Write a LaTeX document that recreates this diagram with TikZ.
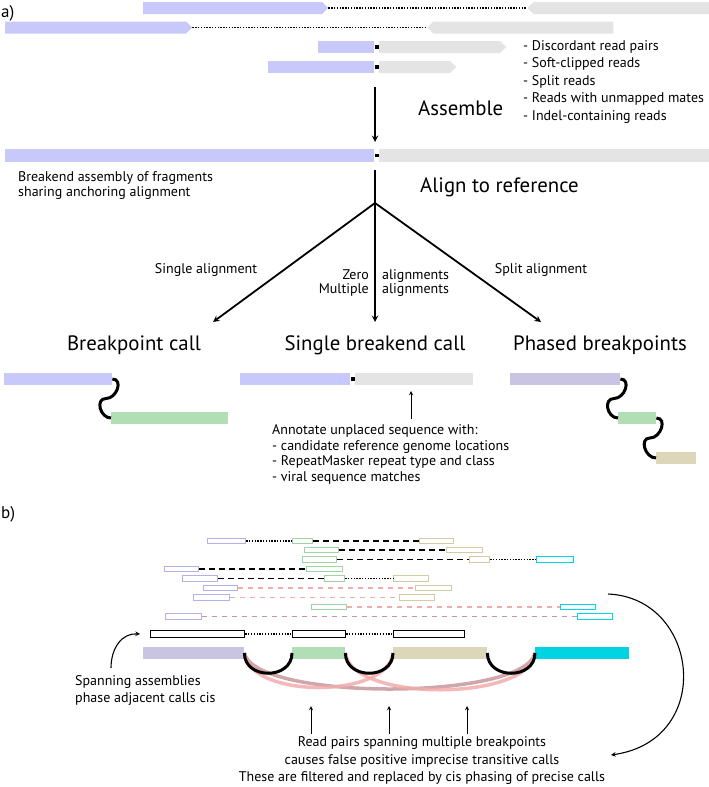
\documentclass[tikz,border=0pt]{standalone}
\usepackage{fontspec}
\setmainfont{PT Sans}
\usetikzlibrary{arrows,shapes.symbols}

\definecolor{lav}{RGB}{200,200,250}
\definecolor{gry}{RGB}{228,228,228}
\definecolor{grn}{RGB}{178,222,182}
\definecolor{bge}{RGB}{222,214,184}
\definecolor{dpur}{RGB}{200,196,226}
\definecolor{cyn}{RGB}{0,212,226}
\definecolor{pnk}{RGB}{242,172,172}
\definecolor{mve}{RGB}{200,150,156}
\definecolor{lavo}{RGB}{178,178,232}
\definecolor{grno}{RGB}{158,212,164}
\definecolor{bgeo}{RGB}{214,202,166}
\definecolor{cyno}{RGB}{0,214,232}

\tikzset{
  bar/.style={fill=#1, inner sep=0pt, minimum height=12, anchor=west},
  tipr/.style={signal, signal to=east, fill=#1, inner sep=0pt, minimum height=12, anchor=west},
  tipl/.style={signal, signal to=west, fill=#1, inner sep=0pt, minimum height=12, anchor=west},
  brk/.style={fill=black, inner sep=0pt, minimum width=4, minimum height=3.5, anchor=west},
  rd/.style={draw=#1, fill=white, line width=1.2pt, inner sep=0pt, minimum height=5.5, anchor=west},
  asmbox/.style={draw=black, fill=white, line width=1.3pt, inner sep=0pt, minimum height=7, anchor=west},
  txt/.style={font=\fontsize{14}{17.5}\selectfont, inner sep=0pt},
  ttl/.style={font=\fontsize{20.8}{24}\selectfont, inner sep=0pt},
  joinb/.style={line width=3pt},
  dotlink/.style={dash pattern=on 1.3pt off 1.5pt, line width=1.2pt},
  dshlink/.style={dash pattern=on 6pt off 4pt, line width=1.4pt},
  pnklink/.style={dash pattern=on 5pt off 5pt, line width=1.1pt, draw=#1},
  trans/.style={line width=3.5pt, draw=#1, opacity=0.85},
}

\begin{document}
\begin{tikzpicture}[x=1pt,y=-1pt]
  \useasboundingbox (0,0) rectangle (709,787);

  % a) reads
  \node[txt, font=\fontsize{17}{20}\selectfont, anchor=west] (la) at (1,13) {a)};

  \node[tipr=lav, minimum width=185] (r1p) at (143,8) {};
  \node[tipl=gry, minimum width=182] (r1g) at (527,8) {};
  \draw[dotlink] (r1p.east) -- (r1g.west);

  \node[tipr=lav, minimum width=187] (r2p) at (5,27.5) {};
  \node[tipl=gry, minimum width=186] (r2g) at (427,27.5) {};
  \draw[dotlink] (r2p.east) -- (r2g.west);

  \node[bar=lav, minimum width=56] (r3p) at (318,47) {};
  \node[brk] (r3k) at (r3p.east) {};
  \node[tipr=gry, minimum width=127] (r3g) at (r3k.east) {};

  \node[bar=lav, minimum width=106] (r4p) at (268,67) {};
  \node[brk] (r4k) at (r4p.east) {};
  \node[tipr=gry, minimum width=77] (r4g) at (r4k.east) {};

  \node[txt, anchor=west, align=left] (src) at (523,82)
    {- Discordant read pairs\\- Soft-clipped reads\\- Split reads\\- Reads with unmapped mates\\- Indel-containing reads};

  \node[ttl, anchor=west] (tas) at (418,108) {Assemble};
  \coordinate (as0) at (375,87);
  \coordinate (as1) at (375,142);
  \draw[->,>=stealth, line width=1.8pt] (as0) -- (as1);

  % assembled breakend
  \node[bar=lav, minimum width=369, minimum height=13] (asp) at (5,155.5) {};
  \node[brk] (ask) at (asp.east) {};
  \node[bar=gry, minimum width=331, minimum height=13] (asg) at (ask.east) {};

  \node[txt, anchor=west, align=left, font=\fontsize{14}{15.5}\selectfont] (bea) at (18,185.5)
    {Breakend assembly of fragments\\sharing anchoring alignment};
  \node[ttl, anchor=west] (tal) at (420,187) {Align to reference};

  \coordinate (fk0) at (375,170);
  \coordinate (fork) at (375,203);
  \coordinate (e1) at (213,322);
  \coordinate (e2) at (375,322);
  \coordinate (e3) at (541,322);
  \draw[line width=1.8pt] (fk0) -- (fork);
  \foreach \e in {e1,e2,e3}
  {
    \draw[->,>=stealth, line width=1.8pt] (fork) -- (\e);
  }

  \node[txt] (lsa) at (206,270) {Single alignment};
  \node[txt] (lspl) at (541,270) {Split alignment};
  \node[txt, anchor=east, align=right, font=\fontsize{14}{14}\selectfont] (lzm) at (369,283) {Zero\\Multiple};
  \node[txt, anchor=west, align=left, font=\fontsize{14}{14}\selectfont] (lal) at (382,283) {alignments\\alignments};

  \node[ttl] (tbp) at (134,345) {Breakpoint call};
  \node[ttl] (tsb) at (375,345) {Single breakend call};
  \node[ttl] (tph) at (600,345) {Phased breakpoints};

  % breakpoint call
  \node[bar=lav, minimum width=108] (bcp) at (4,379) {};
  \node[bar=grn, minimum width=117] (bcg) at (111,418) {};
  \draw[joinb] (bcp.east) .. controls +(11,0) and +(11,0) .. (106,398.5)
    .. controls +(-11,0) and +(-11,0) .. (bcg.west);

  % single breakend call
  \node[bar=lav, minimum width=110] (sbp) at (240,379) {};
  \node[brk] (sbk) at (sbp.east) {};
  \node[bar=gry, minimum width=118] (sbg) at (sbk.east) {};

  \node[txt, anchor=west, align=left, font=\fontsize{14}{15.5}\selectfont] (ann) at (272,454.5)
    {Annotate unplaced sequence with:\\- candidate reference genome locations\\- RepeatMasker repeat type and class\\- viral sequence matches};
  \coordinate (anx) at (411,391);
  \draw[->,>=stealth, line width=0.9pt] ([yshift=6pt]ann.north -| anx) -- (anx);

  % phased breakpoints
  \node[bar=dpur, minimum width=110] (php) at (510,379) {};
  \node[bar=grn, minimum width=38] (phg) at (618,418) {};
  \node[bar=bge, minimum width=40] (phb) at (656,458) {};
  \draw[joinb] (php.east) .. controls +(11,0) and +(11,0) .. (614,398.5)
    .. controls +(-11,0) and +(-11,0) .. (phg.west);
  \draw[joinb] (phg.east) .. controls +(11,0) and +(11,0) .. (650,438)
    .. controls +(-11,0) and +(-11,0) .. (phb.west);

  % b) read pairs
  \node[txt, font=\fontsize{17}{20}\selectfont, anchor=west] (lb) at (1,514) {b)};

  \node[rd=lavo, minimum width=38] (p1a) at (207,541) {};
  \node[rd=grno, minimum width=20] (p1b) at (292,541) {};
  \node[rd=bgeo, minimum width=34] (p1c) at (419,541) {};
  \draw[dotlink] (p1a.east) -- (p1b.west);
  \draw[dshlink] (p1b.east) -- (p1c.west);

  \node[rd=grno, minimum width=34] (p2a) at (304,550) {};
  \node[rd=bgeo, minimum width=36] (p2b) at (446,550) {};
  \draw[dshlink] (p2a.east) -- (p2b.west);

  \node[rd=grno, minimum width=34] (p3a) at (302,559.5) {};
  \node[rd=bgeo, minimum width=20] (p3b) at (469,559.5) {};
  \node[rd=cyno, minimum width=37] (p3c) at (536,559.5) {};
  \draw[dshlink] (p3a.east) -- (p3b.west);
  \draw[dotlink] (p3b.east) -- (p3c.west);

  \node[rd=lavo, minimum width=34] (p4a) at (164,569) {};
  \node[rd=grno, minimum width=36] (p4b) at (306,569) {};
  \draw[dshlink] (p4a.east) -- (p4b.west);

  \node[rd=lavo, minimum width=35] (p5a) at (182,578.5) {};
  \node[rd=grno, minimum width=20] (p5b) at (324,578.5) {};
  \node[rd=bgeo, minimum width=35] (p5c) at (393,578.5) {};
  \draw[dshlink] (p5a.east) -- (p5b.west);
  \draw[dotlink] (p5b.east) -- (p5c.west);

  \node[rd=lavo, minimum width=34] (p6a) at (203,588) {};
  \node[rd=bgeo, minimum width=36] (p6b) at (415,588) {};
  \draw[pnklink=pnk] (p6a.east) -- (p6b.west);

  \node[rd=lavo, minimum width=36] (p7a) at (193,597.5) {};
  \node[rd=bgeo, minimum width=35] (p7b) at (399,597.5) {};
  \draw[pnklink=pnk] (p7a.east) -- (p7b.west);

  \node[rd=grno, minimum width=35] (p8a) at (311,607) {};
  \node[rd=cyno, minimum width=35] (p8b) at (560,607) {};
  \draw[pnklink=pnk] (p8a.east) -- (p8b.west);

  \node[rd=lavo, minimum width=36] (p9a) at (165,616.5) {};
  \node[rd=cyno, minimum width=35] (p9b) at (577,616.5) {};
  \draw[pnklink=mve, line width=1.4pt] (p9a.east) -- (p9b.west);

  % spanning assemblies
  \node[asmbox, minimum width=94] (sa1) at (150,634) {};
  \node[asmbox, minimum width=53] (sa2) at (292,634) {};
  \node[asmbox, minimum width=71] (sa3) at (393,634) {};
  \draw[dotlink] (sa1.east) -- (sa2.west);
  \draw[dotlink] (sa2.east) -- (sa3.west);

  % calls
  \node[bar=dpur, minimum width=101] (cb1) at (143,653) {};
  \node[bar=grn, minimum width=53] (cb2) at (292,653) {};
  \node[bar=bge, minimum width=94] (cb3) at (393,653) {};
  \node[bar=cyn, minimum width=94] (cb4) at (535,653) {};

  \draw[trans=mve] (cb1.east) .. controls +(10,48) and +(-10,48) .. (cb4.west);
  \draw[trans=pnk] (cb1.east) .. controls +(5,46) and +(-5,46) .. (cb3.west);
  \draw[trans=pnk] (cb2.east) .. controls +(5,49) and +(-5,49) .. (cb4.west);

  \draw[joinb] (cb1.east) .. controls +(0,27) and +(0,27) .. (cb2.west);
  \draw[joinb] (cb2.east) .. controls +(0,27) and +(0,27) .. (cb3.west);
  \draw[joinb] (cb3.east) .. controls +(0,27) and +(0,27) .. (cb4.west);

  \node[txt, anchor=west, align=left, font=\fontsize{14}{17}\selectfont] (spa) at (75,690.5)
    {Spanning assemblies\\phase adjacent calls cis};
  \coordinate (sp0) at (111,668);
  \draw[->,>=stealth, line width=1.1pt] (sp0) .. controls (111,648) and (122,633) .. ([xshift=-10pt]sa1.west);

  \node[txt, align=center] (fpt) at (422,761)
    {Read pairs spanning multiple breakpoints\\causes false positive imprecise transitive calls\\These are filtered and replaced by cis phasing of precise calls};
  \foreach \x in {311,389,467}
  {
    \coordinate (up\x) at (\x,706);
    \draw[->,>=stealth, line width=0.9pt] ([yshift=3pt]fpt.north -| up\x) -- (up\x);
  }

  \coordinate (rc0) at (608,594);
  \coordinate (rc1) at (611,755);
  \draw[->,>=stealth, line width=1.1pt] (rc0) .. controls (700,598) and (715,740) .. (rc1);

\end{tikzpicture}
\end{document}
